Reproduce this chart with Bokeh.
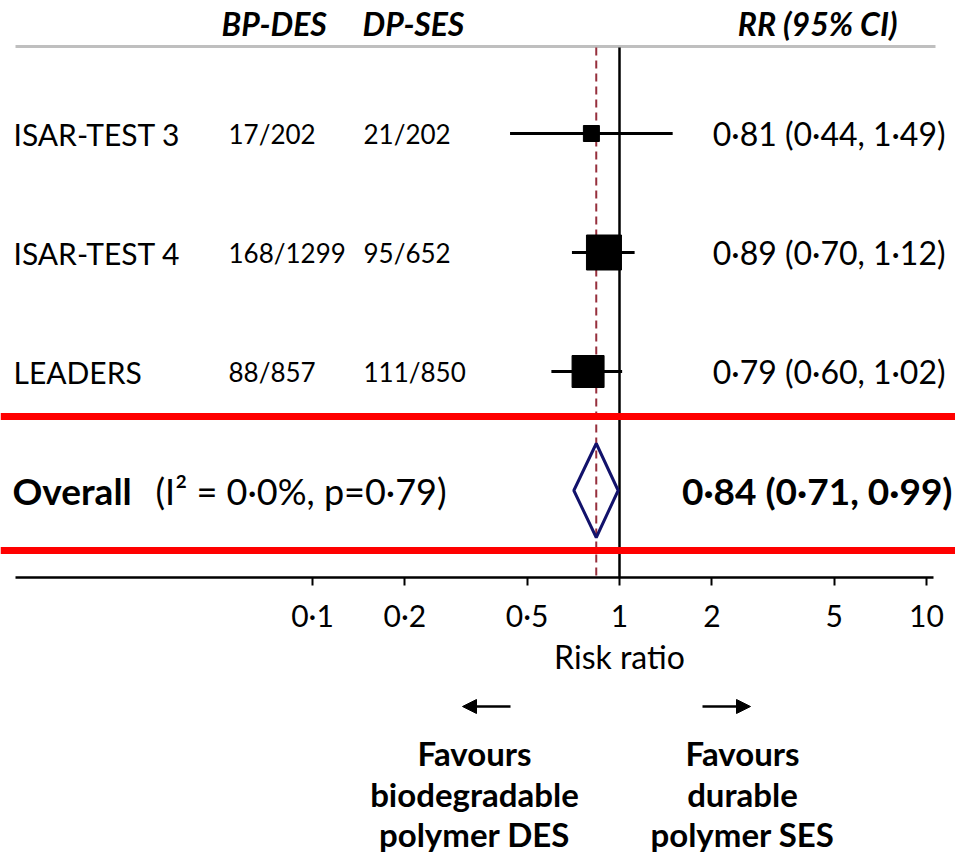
from bokeh.plotting import figure
from bokeh.models import (Range1d, LogAxis, FixedTicker, Span, Arrow, NormalHead,
                          ColumnDataSource)
from bokeh.core.properties import value
from bokeh.embed import file_html
from bokeh.resources import INLINE

# ---------------- data ----------------
studies = ["ISAR-TEST 3", "ISAR-TEST 4", "LEADERS"]
bp_des_events = ["17/202", "168/1299", "88/857"]
dp_ses_events = ["21/202", "95/652", "111/850"]
rr = [0.81, 0.89, 0.79]
rr_lo = [0.44, 0.70, 0.60]
rr_hi = [1.49, 1.12, 1.02]
overall_rr = 0.84
overall_lo = 0.71
overall_hi = 0.99
overall_het = "(I\u00b2 = 0\u00b70%, p=0\u00b779)"
tick_vals = [0.1, 0.2, 0.5, 1.0, 2.0, 5.0, 10.0]
tick_labels = ["0\u00b71", "0\u00b72", "0\u00b75", "1", "2", "5", "10"]
headers = ["BP-DES", "DP-SES", "RR (95% CI)"]
x_title = "Risk ratio"
favours_left = ["Favours", "biodegradable", "polymer DES"]
favours_right = ["Favours", "durable", "polymer SES"]

# ---------------- layout ----------------
W, H = 955, 852
X1PX, DEC = 619, 307          # pixel of RR=1, pixels per decade
FONT = value("Lato")


def X(px):
    return 10 ** ((px - X1PX) / DEC)


ROW0, STEP = 133, 119
row_y = [ROW0 + STEP * i for i in range(len(studies))]
over_y = ROW0 + STEP * len(studies)
marker_px = [16, 35, 32]


def fmt(v):
    return f"{v:.2f}".replace(".", "\u00b7")


p = figure(width=W, height=H, x_axis_type="log",
           x_range=Range1d(X(0), X(W)), y_range=Range1d(H, 0),
           x_axis_location=None, y_axis_location=None,
           toolbar_location=None, output_backend="svg", min_border=0)
p.outline_line_color = None
p.grid.visible = False
p.background_fill_color = "white"
p.border_fill_color = "white"

# header rule
p.segment(x0=[X(15)], x1=[X(935)], y0=[46], y1=[46], line_color="#bfbfbf", line_width=3)

# red separators
for yy in (416, 550):
    p.add_layout(Span(location=yy, dimension="width", line_color="#ff0000", line_width=7))

# null line and overall dashed line
p.segment(x0=[1], x1=[1], y0=[47], y1=[577], line_color="black", line_width=2.5)
p.segment(x0=[overall_rr], x1=[overall_rr], y0=[47], y1=[577],
          line_color="#962f3c", line_width=2, line_dash="8 5")

# study CIs and squares
src = ColumnDataSource(dict(rr=rr, lo=rr_lo, hi=rr_hi, y=row_y, s=marker_px))
p.segment(x0="lo", x1="hi", y0="y", y1="y", source=src, line_color="black", line_width=3)
p.scatter(x="rr", y="y", size="s", marker="square", source=src,
          fill_color="black", line_color="black")

# overall diamond
dh = 47
p.patch(x=[overall_lo, overall_rr, overall_hi, overall_rr],
        y=[over_y, over_y - dh, over_y, over_y + dh],
        fill_color=None, line_color="#12126b", line_width=3)

# axis
ax = LogAxis(fixed_location=577, ticker=FixedTicker(ticks=tick_vals),
             bounds=(X(15), X(933)))
ax.major_label_overrides = {t: l for t, l in zip(tick_vals, tick_labels)}
ax.axis_line_width = 2.5
ax.axis_line_color = "black"
ax.major_tick_line_width = 2
ax.major_tick_line_color = "black"
ax.major_tick_out = 8
ax.major_tick_in = 0
ax.minor_tick_line_color = None
ax.major_label_text_font = "Lato"
ax.major_label_text_font_size = "30px"
ax.major_label_text_color = "black"
ax.major_label_standoff = 11
p.add_layout(ax, "below")

# texts
def txt(x, y, t, size, align="left", style="normal", baseline="middle"):
    p.text(x=x, y=y, text=t, text_font=FONT, text_font_size=size,
           text_align=align, text_baseline=baseline, text_font_style=style,
           text_color="black")

txt([X(221), X(362)], [23, 23], headers[:2], "32px", style="bold italic")
txt([X(897)], [23], headers[2:], "32px", align="right", style="bold italic")

txt([X(13)] * 3, row_y, studies, "30px")
txt([X(228)] * 3, row_y, bp_des_events, "26px")
txt([X(363)] * 3, row_y, dp_ses_events, "26px")
txt([X(945)] * 3, row_y,
    [f"{fmt(a)} ({fmt(b)}, {fmt(c)})" for a, b, c in zip(rr, rr_lo, rr_hi)], "32px",
    align="right")

txt([X(12)], [over_y], ["Overall"], "37px", style="bold")
txt([X(155)], [over_y], [overall_het], "36px")
txt([X(952)], [over_y], [f"{fmt(overall_rr)} ({fmt(overall_lo)}, {fmt(overall_hi)})"],
    "37px", align="right", style="bold")

txt([1], [656], [x_title], "32px", align="center")

# favours arrows and captions
p.add_layout(Arrow(end=NormalHead(size=14, fill_color="black", line_color="black"),
                   x_start=X(510), x_end=X(462), y_start=706, y_end=706,
                   line_width=2.5, line_color="black"))
p.add_layout(Arrow(end=NormalHead(size=14, fill_color="black", line_color="black"),
                   x_start=X(702), x_end=X(750), y_start=706, y_end=706,
                   line_width=2.5, line_color="black"))
fav_y = [752, 793, 833]
txt([X(474)] * 3, fav_y, favours_left, "33px", align="center", style="bold")
txt([X(742)] * 3, fav_y, favours_right, "33px", align="center", style="bold")

open("out.html", "w").write(file_html(p, INLINE))
